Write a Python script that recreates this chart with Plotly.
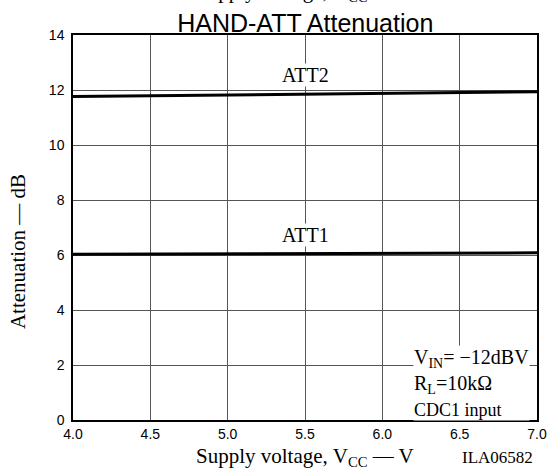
import plotly.graph_objects as go

vcc = [4.0, 4.5, 5.0, 5.5, 6.0, 6.5, 7.0]
att2 = [11.76, 11.79, 11.82, 11.85, 11.88, 11.91, 11.94]
att1 = [6.03, 6.04, 6.05, 6.06, 6.07, 6.07, 6.08]
x_ticks = [4.0, 4.5, 5.0, 5.5, 6.0, 6.5, 7.0]
x_tick_labels = ["4.0", "4.5", "5.0", "5.5", "6.0", "6.5", "7.0"]
y_ticks = [0, 2, 4, 6, 8, 10, 12, 14]

serif = "Liberation Serif, Times New Roman, serif"
sans = "Liberation Sans, Arial, sans-serif"

fig = go.Figure()
fig.add_trace(go.Scatter(x=vcc, y=att2, mode="lines", line=dict(color="black", width=3), showlegend=False, hoverinfo="skip"))
fig.add_trace(go.Scatter(x=vcc, y=att1, mode="lines", line=dict(color="black", width=3), showlegend=False, hoverinfo="skip"))

fig.update_layout(
    width=549, height=468, autosize=False,
    margin=dict(l=73, r=12, t=35, b=48, autoexpand=False),
    paper_bgcolor="white", plot_bgcolor="white",
    title=dict(text="HAND-ATT Attenuation", x=0.556, xanchor="center", y=0.951, yanchor="middle",
               font=dict(family=sans, size=25, color="black")),
    xaxis=dict(range=[4.0, 7.0], tickvals=x_ticks, ticktext=x_tick_labels,
               showgrid=True, gridcolor="#555555", gridwidth=1,
               showline=True, linecolor="black", linewidth=1.5, mirror=True,
               ticks="", zeroline=False, automargin=False,
               tickfont=dict(family=sans, size=14, color="black")),
    yaxis=dict(range=[0, 14], tickvals=y_ticks,
               showgrid=True, gridcolor="#555555", gridwidth=1,
               showline=True, linecolor="black", linewidth=1.5, mirror=True,
               ticks="", zeroline=False, ticklabelstandoff=4, automargin=False,
               tickfont=dict(family=sans, size=14, color="black")),
    annotations=[
        dict(text="Supply voltage, V<sub>CC</sub>", xref="paper", yref="paper", x=0.45, y=1.073,
             xanchor="center", yanchor="bottom", showarrow=False,
             font=dict(family=serif, size=21, color="black")),
        dict(text="ATT2", x=5.5, y=12.55, xref="x", yref="y", showarrow=False,
             bgcolor="white", borderpad=0,
             font=dict(family=serif, size=20, color="black")),
        dict(text="ATT1", x=5.5, y=6.72, xref="x", yref="y", showarrow=False,
             bgcolor="white", borderpad=0,
             font=dict(family=serif, size=20, color="black")),
        dict(text="V<sub>IN</sub>= \u221212dBV<br>R<sub>L</sub>=10k\u03a9<br><span style='font-size:18px'>CDC1 input</span>",
             x=6.2, y=2.73, xref="x", yref="y", xanchor="left", yanchor="top", align="left",
             showarrow=False, bgcolor="white", borderpad=0,
             font=dict(family=serif, size=20, color="black")),
        dict(text="Supply voltage, V<sub>CC</sub> \u2014 V", xref="paper", yref="paper", x=0.5, y=-0.097,
             xanchor="center", yanchor="middle", showarrow=False,
             font=dict(family=serif, size=21, color="black")),
        dict(text="ILA06582", xref="paper", yref="paper", x=1.0, y=-0.097,
             xanchor="right", yanchor="middle", showarrow=False, xshift=-2,
             font=dict(family=serif, size=17, color="black")),
        dict(text="Attenuation \u2014 dB", xref="paper", yref="paper", x=-0.12, y=0.437,
             xanchor="center", yanchor="middle", textangle=-90, showarrow=False,
             font=dict(family=serif, size=21, color="black")),
    ],
)

fig.write_html("out.html", config={"displayModeBar": False, "responsive": False},
               post_script="document.body.style.margin='0';document.body.style.overflow='hidden';")
